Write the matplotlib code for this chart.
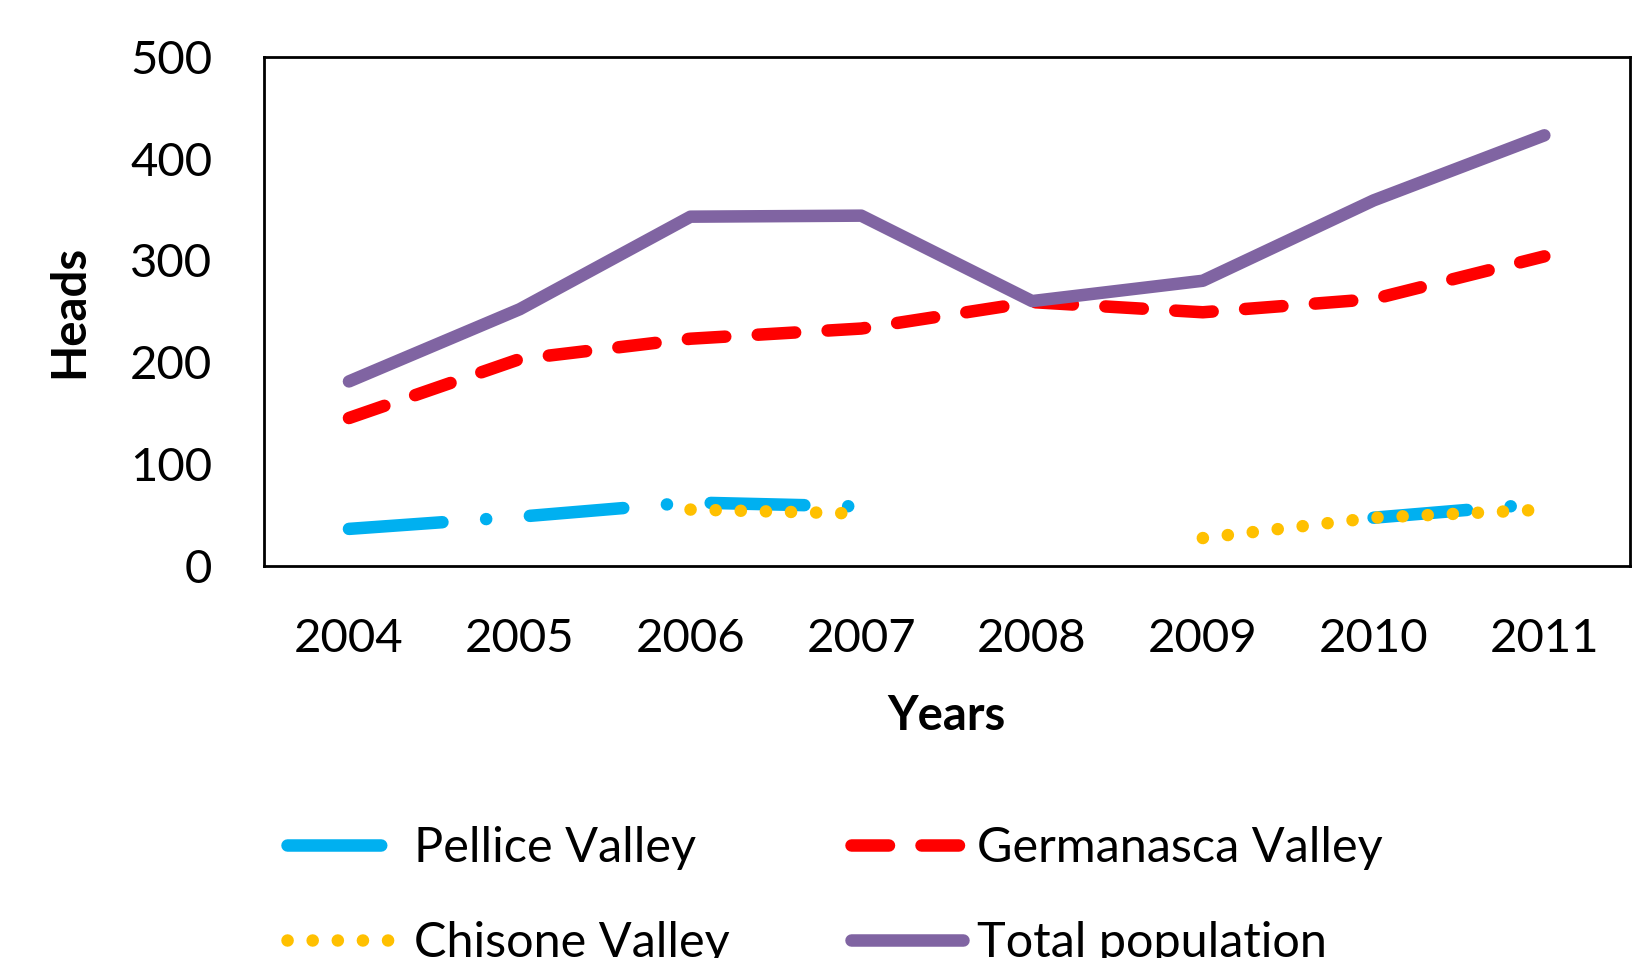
import numpy as np
import matplotlib
matplotlib.use("Agg")
import matplotlib.pyplot as plt

# data (heads per year)
years = [2004, 2005, 2006, 2007, 2008, 2009, 2010, 2011]
pellice = [36, 48, 62, 58, np.nan, np.nan, 47, 61]
germanasca = [145, 203, 223, 233, 259, 249, 262, 304]
chisone = [np.nan, np.nan, 55, 51, np.nan, 27, 47, 55]
total = [181, 252, 343, 344, 260, 280, 359, 423]

plt.rcParams['font.family'] = ['Lato', 'DejaVu Sans']

fig = plt.figure(figsize=(16.33, 9.58), dpi=100)
ax = fig.add_axes([0.1614, 0.4097, 0.8366, 0.5308])

lw = 9
ax.plot(years, pellice, color='#00B0F0', lw=lw, dashes=(7.5, 3.5, 0.01, 3.5),
        dash_capstyle='round', solid_capstyle='round', label='Pellice Valley')
ax.plot(years, germanasca, color='#FF0000', lw=lw, dashes=(3, 2.6),
        dash_capstyle='round', label='Germanasca Valley')
ax.plot(years, chisone, color='#FFC000', lw=lw, dashes=(0.01, 2),
        dash_capstyle='round', label='Chisone Valley')
ax.plot(years, total, color='#8064A2', lw=lw, solid_capstyle='round',
        label='Total population')

ax.set_xlim(2003.5, 2011.5)
ax.set_ylim(0, 500)
ax.set_xticks(years)
ax.set_yticks(range(0, 501, 100))
ax.tick_params(axis='both', length=0, labelsize=34)
ax.tick_params(axis='y', pad=37)
ax.tick_params(axis='x', pad=38)
for s in ax.spines.values():
    s.set_linewidth(2)
    s.set_color('black')

ax.set_xlabel('Years', fontsize=34, fontweight='bold', labelpad=24)
ax.set_ylabel('Heads', fontsize=34, fontweight='bold', labelpad=28)

handles, labels = ax.get_legend_handles_labels()
order = [0, 2, 1, 3]
fig.legend([handles[i] for i in order], [labels[i] for i in order],
           loc='upper left', bbox_to_anchor=(0.176, 0.138), ncol=2,
           frameon=False, fontsize=35, handlelength=2.3, handletextpad=0.3,
           columnspacing=2.5, labelspacing=1.05, borderpad=0, borderaxespad=0)

fig.savefig('out.png', dpi=100)
